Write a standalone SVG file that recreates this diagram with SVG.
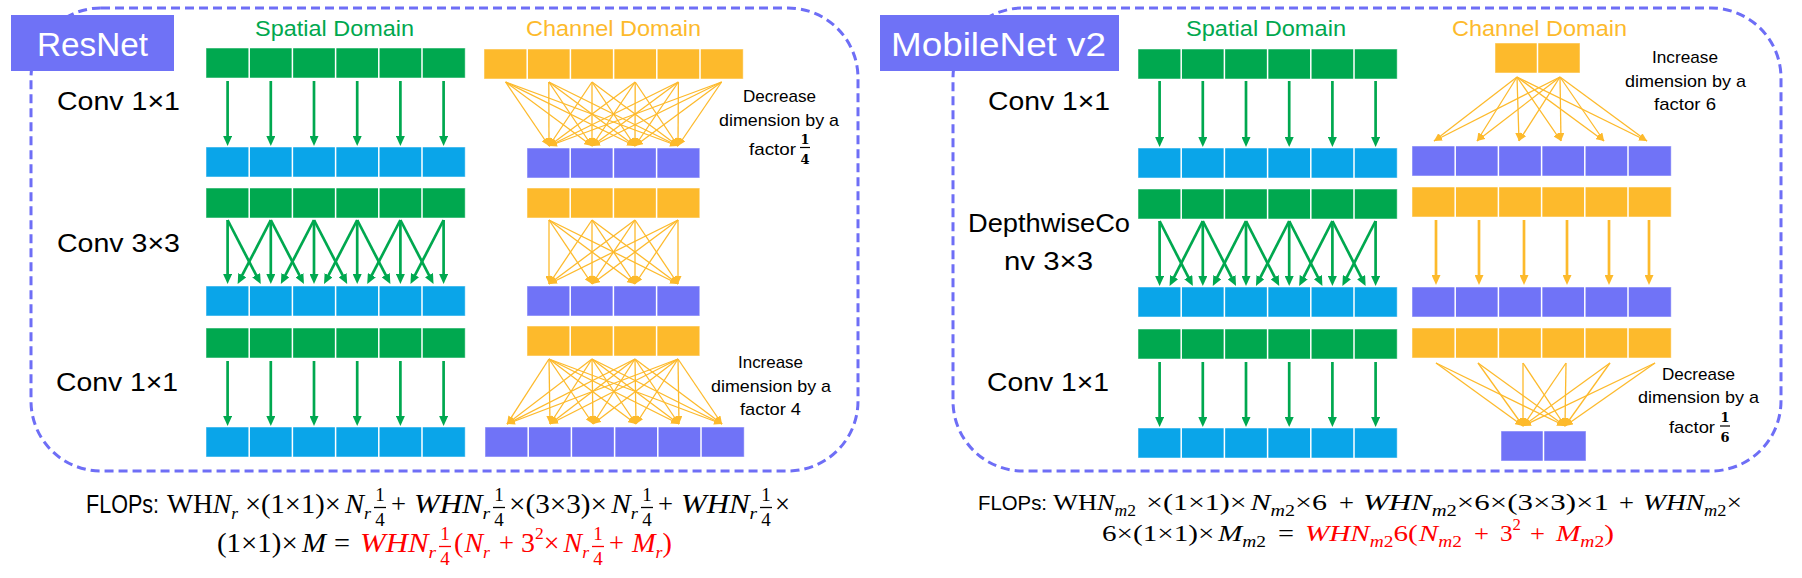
<svg xmlns="http://www.w3.org/2000/svg" width="1802" height="578" viewBox="0 0 1802 578">
<style>
.panel{fill:none;stroke:#6e6ef6;stroke-width:3;stroke-dasharray:9 5}
.tag{fill:#6f72f6}
.tagt{font-family:"Liberation Sans",Arial,sans-serif;font-size:33px;fill:#fff}
.g{fill:#00a84f}.b{fill:#0aa5e9}.p{fill:#7073f7}.o{fill:#fdba2c}
.g,.b,.p,.o{stroke:#fff;stroke-opacity:.5;stroke-width:1}
.sep{stroke:#fff;stroke-width:1.5;fill:none}
.lbl{font-family:"Liberation Sans",Arial,sans-serif;font-size:25px;fill:#000}
.dom{font-family:"Liberation Sans",Arial,sans-serif;font-size:22px}
.gt{fill:#00a84f}.ot{fill:#fdba2c}
.ann{font-family:"Liberation Sans",Arial,sans-serif;font-size:17px;fill:#000}
.af{font-family:"DejaVu Serif",serif;font-size:13px;font-weight:bold;fill:#000;text-anchor:middle}
.fs{font-family:"Liberation Sans",Arial,sans-serif;font-size:25px;fill:#000}
.fs2{font-family:"Liberation Sans",Arial,sans-serif;font-size:21px;fill:#000}
.m{font-family:"Liberation Serif","Times New Roman",serif;font-size:27px;fill:#000}
.m2{font-family:"Liberation Serif","Times New Roman",serif;font-size:24px;fill:#000}
.mf{font-family:"Liberation Serif","Times New Roman",serif;font-size:19px;fill:#000;text-anchor:middle}
.sa{font-size:17px}.sb{font-size:16px}
.i{font-style:italic}
.red{fill:#f00}
.fb{stroke:#000;stroke-width:1.3}
.fbr{stroke:#f00;stroke-width:1.3}
.abar{stroke:#000;stroke-width:1.2}
.ga{stroke:#00a84f;stroke-width:2.7;fill:none;marker-end:url(#ag)}
.oa{stroke:#fdba2c;stroke-width:1.3;fill:none;marker-end:url(#ao)}
.ota{stroke:#fdba2c;stroke-width:2.7;fill:none;marker-end:url(#aot)}
</style>
<defs>
<marker id="ag" markerUnits="userSpaceOnUse" markerWidth="10" markerHeight="9" refX="4" refY="4.5" orient="auto"><path d="M0,0L10,4.5L0,9z" fill="#00a84f"/></marker>
<marker id="aot" markerUnits="userSpaceOnUse" markerWidth="10" markerHeight="9" refX="4" refY="4.5" orient="auto"><path d="M0,0L10,4.5L0,9z" fill="#fdba2c"/></marker>
<marker id="ao" markerUnits="userSpaceOnUse" markerWidth="8" markerHeight="7" refX="8" refY="3.5" orient="auto"><path d="M0,0L8,3.5L0,7z" fill="#fdba2c"/></marker>
</defs>

<!-- panels -->
<g id="resnet-panel">
<rect class="panel" x="31" y="8" width="827" height="463" rx="70"/>
<rect class="tag" x="11" y="15" width="163" height="56"/>
<text class="tagt" x="37" y="56" textLength="111" lengthAdjust="spacingAndGlyphs">ResNet</text>
</g>
<g id="mobilenet-panel">
<rect class="panel" x="953" y="8" width="828" height="463" rx="70"/>
<rect class="tag" x="880" y="15" width="239" height="56"/>
<text class="tagt" x="891" y="56" textLength="215" lengthAdjust="spacingAndGlyphs">MobileNet v2</text>
</g>

<!-- titles and labels -->
<g id="resnet-labels">
<text class="dom gt" x="255" y="36" textLength="159" lengthAdjust="spacingAndGlyphs">Spatial Domain</text>
<text class="dom ot" x="526" y="36" textLength="175" lengthAdjust="spacingAndGlyphs">Channel Domain</text>
<text class="lbl" x="57" y="110" textLength="123" lengthAdjust="spacingAndGlyphs">Conv 1×1</text>
<text class="lbl" x="57" y="252" textLength="123" lengthAdjust="spacingAndGlyphs">Conv 3×3</text>
<text class="lbl" x="56" y="391" textLength="122" lengthAdjust="spacingAndGlyphs">Conv 1×1</text>
<text class="ann" x="743" y="102" textLength="73" lengthAdjust="spacingAndGlyphs">Decrease</text>
<text class="ann" x="719" y="126" textLength="120" lengthAdjust="spacingAndGlyphs">dimension by a</text>
<text class="ann" x="749" y="155" textLength="47" lengthAdjust="spacingAndGlyphs">factor</text>
<text class="af" x="805" y="144">1</text><path class="abar" d="M800 147.5h10"/><text class="af" x="805" y="164">4</text>
<text class="ann" x="738" y="368" textLength="65" lengthAdjust="spacingAndGlyphs">Increase</text>
<text class="ann" x="711" y="392" textLength="120" lengthAdjust="spacingAndGlyphs">dimension by a</text>
<text class="ann" x="740" y="415" textLength="61" lengthAdjust="spacingAndGlyphs">factor 4</text>
</g>
<g id="mobilenet-labels">
<text class="dom gt" x="1186" y="36" textLength="160" lengthAdjust="spacingAndGlyphs">Spatial Domain</text>
<text class="dom ot" x="1452" y="36" textLength="175" lengthAdjust="spacingAndGlyphs">Channel Domain</text>
<text class="lbl" x="988" y="110" textLength="122" lengthAdjust="spacingAndGlyphs">Conv 1×1</text>
<text class="lbl" x="968" y="232" textLength="162" lengthAdjust="spacingAndGlyphs">DepthwiseCo</text>
<text class="lbl" x="1004" y="270" textLength="89" lengthAdjust="spacingAndGlyphs">nv 3×3</text>
<text class="lbl" x="987" y="391" textLength="122" lengthAdjust="spacingAndGlyphs">Conv 1×1</text>
<text class="ann" x="1652" y="63" textLength="66" lengthAdjust="spacingAndGlyphs">Increase</text>
<text class="ann" x="1625" y="87" textLength="121" lengthAdjust="spacingAndGlyphs">dimension by a</text>
<text class="ann" x="1654" y="110" textLength="62" lengthAdjust="spacingAndGlyphs">factor 6</text>
<text class="ann" x="1662" y="380" textLength="73" lengthAdjust="spacingAndGlyphs">Decrease</text>
<text class="ann" x="1638" y="403" textLength="121" lengthAdjust="spacingAndGlyphs">dimension by a</text>
<text class="ann" x="1669" y="433" textLength="46" lengthAdjust="spacingAndGlyphs">factor</text>
<text class="af" x="1725" y="422">1</text><path class="abar" d="M1720 426h10"/><text class="af" x="1725" y="442">6</text>
</g>

<!-- ResNet rows -->
<g id="rs-g1"><rect class="g" x="206" y="48" width="259.2" height="30"/><path class="sep" d="M249.2 48v30M292.4 48v30M335.6 48v30M378.8 48v30M422 48v30"/></g>
<g id="rs-b1"><rect class="b" x="206" y="147" width="259.2" height="30"/><path class="sep" d="M249.2 147v30M292.4 147v30M335.6 147v30M378.8 147v30M422 147v30"/></g>
<g id="rs-g2"><rect class="g" x="206" y="188" width="259.2" height="30"/><path class="sep" d="M249.2 188v30M292.4 188v30M335.6 188v30M378.8 188v30M422 188v30"/></g>
<g id="rs-b2"><rect class="b" x="206" y="286" width="259.2" height="30"/><path class="sep" d="M249.2 286v30M292.4 286v30M335.6 286v30M378.8 286v30M422 286v30"/></g>
<g id="rs-g3"><rect class="g" x="206" y="328" width="259.2" height="30"/><path class="sep" d="M249.2 328v30M292.4 328v30M335.6 328v30M378.8 328v30M422 328v30"/></g>
<g id="rs-b3"><rect class="b" x="206" y="427" width="259.2" height="30"/><path class="sep" d="M249.2 427v30M292.4 427v30M335.6 427v30M378.8 427v30M422 427v30"/></g>
<g id="rc-o1"><rect class="o" x="484" y="49" width="259.2" height="30"/><path class="sep" d="M527.2 49v30M570.4 49v30M613.6 49v30M656.8 49v30M700 49v30"/></g>
<g id="rc-p1"><rect class="p" x="527" y="148" width="172.8" height="30"/><path class="sep" d="M570.2 148v30M613.4 148v30M656.6 148v30"/></g>
<g id="rc-o2"><rect class="o" x="527" y="188" width="172.8" height="30"/><path class="sep" d="M570.2 188v30M613.4 188v30M656.6 188v30"/></g>
<g id="rc-p2"><rect class="p" x="527" y="286" width="172.8" height="30"/><path class="sep" d="M570.2 286v30M613.4 286v30M656.6 286v30"/></g>
<g id="rc-o3"><rect class="o" x="527" y="326" width="172.8" height="30"/><path class="sep" d="M570.2 326v30M613.4 326v30M656.6 326v30"/></g>
<g id="rc-p3"><rect class="p" x="485" y="427" width="259.2" height="30"/><path class="sep" d="M528.2 427v30M571.4 427v30M614.6 427v30M657.8 427v30M701 427v30"/></g>

<!-- MobileNet rows -->
<g id="ms-g1"><rect class="g" x="1138" y="49" width="259.2" height="30"/><path class="sep" d="M1181.2 49v30M1224.4 49v30M1267.6 49v30M1310.8 49v30M1354 49v30"/></g>
<g id="ms-b1"><rect class="b" x="1138" y="148" width="259.2" height="30"/><path class="sep" d="M1181.2 148v30M1224.4 148v30M1267.6 148v30M1310.8 148v30M1354 148v30"/></g>
<g id="ms-g2"><rect class="g" x="1138" y="189" width="259.2" height="30"/><path class="sep" d="M1181.2 189v30M1224.4 189v30M1267.6 189v30M1310.8 189v30M1354 189v30"/></g>
<g id="ms-b2"><rect class="b" x="1138" y="287" width="259.2" height="30"/><path class="sep" d="M1181.2 287v30M1224.4 287v30M1267.6 287v30M1310.8 287v30M1354 287v30"/></g>
<g id="ms-g3"><rect class="g" x="1138" y="329" width="259.2" height="30"/><path class="sep" d="M1181.2 329v30M1224.4 329v30M1267.6 329v30M1310.8 329v30M1354 329v30"/></g>
<g id="ms-b3"><rect class="b" x="1138" y="428" width="259.2" height="30"/><path class="sep" d="M1181.2 428v30M1224.4 428v30M1267.6 428v30M1310.8 428v30M1354 428v30"/></g>
<g id="mc-o1"><rect class="o" x="1495" y="43" width="85" height="30"/><path class="sep" d="M1537.5 43v30"/></g>
<g id="mc-p1"><rect class="p" x="1412" y="146" width="259.2" height="30"/><path class="sep" d="M1455.2 146v30M1498.4 146v30M1541.6 146v30M1584.8 146v30M1628 146v30"/></g>
<g id="mc-o2"><rect class="o" x="1412" y="187" width="259.2" height="30"/><path class="sep" d="M1455.2 187v30M1498.4 187v30M1541.6 187v30M1584.8 187v30M1628 187v30"/></g>
<g id="mc-p2"><rect class="p" x="1412" y="287" width="259.2" height="30"/><path class="sep" d="M1455.2 287v30M1498.4 287v30M1541.6 287v30M1584.8 287v30M1628 287v30"/></g>
<g id="mc-o3"><rect class="o" x="1412" y="328" width="259.2" height="30"/><path class="sep" d="M1455.2 328v30M1498.4 328v30M1541.6 328v30M1584.8 328v30M1628 328v30"/></g>
<g id="mc-p3"><rect class="p" x="1501" y="431" width="85" height="30"/><path class="sep" d="M1543.5 431v30"/></g>

<!-- connectors -->
<g id="connectors">
<path class="ga" d="M227.6 81V140"/><path class="ga" d="M270.8 81V140"/><path class="ga" d="M314 81V140"/><path class="ga" d="M357.2 81V140"/><path class="ga" d="M400.4 81V140"/><path class="ga" d="M443.6 81V140"/>
<path class="ga" d="M227.6 220V278"/><path class="ga" d="M270.8 220V278"/><path class="ga" d="M314 220V278"/><path class="ga" d="M357.2 220V278"/><path class="ga" d="M400.4 220V278"/><path class="ga" d="M443.6 220V278"/>
<path class="ga" d="M227.6 220L258 278.7"/><path class="ga" d="M270.8 220L301.2 278.7"/><path class="ga" d="M314 220L344.4 278.7"/><path class="ga" d="M357.2 220L387.6 278.7"/><path class="ga" d="M400.4 220L430.8 278.7"/>
<path class="ga" d="M270.8 220L240.4 278.7"/><path class="ga" d="M314 220L283.6 278.7"/><path class="ga" d="M357.2 220L326.8 278.7"/><path class="ga" d="M400.4 220L370 278.7"/><path class="ga" d="M443.6 220L413.2 278.7"/>
<path class="ga" d="M227.6 361V420"/><path class="ga" d="M270.8 361V420"/><path class="ga" d="M314 361V420"/><path class="ga" d="M357.2 361V420"/><path class="ga" d="M400.4 361V420"/><path class="ga" d="M443.6 361V420"/>
<path class="oa" d="M505.6 82L549 146"/><path class="oa" d="M505.6 82L592 146"/><path class="oa" d="M505.6 82L635 146"/><path class="oa" d="M505.6 82L678 146"/>
<path class="oa" d="M548.8 82L549 146"/><path class="oa" d="M548.8 82L592 146"/><path class="oa" d="M548.8 82L635 146"/><path class="oa" d="M548.8 82L678 146"/>
<path class="oa" d="M592 82L549 146"/><path class="oa" d="M592 82L592 146"/><path class="oa" d="M592 82L635 146"/><path class="oa" d="M592 82L678 146"/>
<path class="oa" d="M635.2 82L549 146"/><path class="oa" d="M635.2 82L592 146"/><path class="oa" d="M635.2 82L635 146"/><path class="oa" d="M635.2 82L678 146"/>
<path class="oa" d="M678.4 82L549 146"/><path class="oa" d="M678.4 82L592 146"/><path class="oa" d="M678.4 82L635 146"/><path class="oa" d="M678.4 82L678 146"/>
<path class="oa" d="M721.6 82L549 146"/><path class="oa" d="M721.6 82L592 146"/><path class="oa" d="M721.6 82L635 146"/><path class="oa" d="M721.6 82L678 146"/>
<path class="oa" d="M549 220L549 284"/><path class="oa" d="M549 220L592 284"/><path class="oa" d="M549 220L635 284"/><path class="oa" d="M549 220L678 284"/>
<path class="oa" d="M592 220L549 284"/><path class="oa" d="M592 220L592 284"/><path class="oa" d="M592 220L635 284"/><path class="oa" d="M592 220L678 284"/>
<path class="oa" d="M635 220L549 284"/><path class="oa" d="M635 220L592 284"/><path class="oa" d="M635 220L635 284"/><path class="oa" d="M635 220L678 284"/>
<path class="oa" d="M678 220L549 284"/><path class="oa" d="M678 220L592 284"/><path class="oa" d="M678 220L635 284"/><path class="oa" d="M678 220L678 284"/>
<path class="oa" d="M549 359L507 424"/><path class="oa" d="M549 359L550 424"/><path class="oa" d="M549 359L593 424"/><path class="oa" d="M549 359L636 424"/><path class="oa" d="M549 359L679 424"/><path class="oa" d="M549 359L722 424"/>
<path class="oa" d="M592 359L507 424"/><path class="oa" d="M592 359L550 424"/><path class="oa" d="M592 359L593 424"/><path class="oa" d="M592 359L636 424"/><path class="oa" d="M592 359L679 424"/><path class="oa" d="M592 359L722 424"/>
<path class="oa" d="M635 359L507 424"/><path class="oa" d="M635 359L550 424"/><path class="oa" d="M635 359L593 424"/><path class="oa" d="M635 359L636 424"/><path class="oa" d="M635 359L679 424"/><path class="oa" d="M635 359L722 424"/>
<path class="oa" d="M678 359L507 424"/><path class="oa" d="M678 359L550 424"/><path class="oa" d="M678 359L593 424"/><path class="oa" d="M678 359L636 424"/><path class="oa" d="M678 359L679 424"/><path class="oa" d="M678 359L722 424"/>
<path class="ga" d="M1159.6 81V141"/><path class="ga" d="M1202.8 81V141"/><path class="ga" d="M1246 81V141"/><path class="ga" d="M1289.2 81V141"/><path class="ga" d="M1332.4 81V141"/><path class="ga" d="M1375.6 81V141"/>
<path class="ga" d="M1159.6 221V280"/><path class="ga" d="M1202.8 221V280"/><path class="ga" d="M1246 221V280"/><path class="ga" d="M1289.2 221V280"/><path class="ga" d="M1332.4 221V280"/><path class="ga" d="M1375.6 221V280"/>
<path class="ga" d="M1159.6 221L1190.1 280.7"/><path class="ga" d="M1202.8 221L1233.3 280.7"/><path class="ga" d="M1246 221L1276.5 280.7"/><path class="ga" d="M1289.2 221L1319.7 280.7"/><path class="ga" d="M1332.4 221L1362.9 280.7"/>
<path class="ga" d="M1202.8 221L1172.3 280.7"/><path class="ga" d="M1246 221L1215.5 280.7"/><path class="ga" d="M1289.2 221L1258.7 280.7"/><path class="ga" d="M1332.4 221L1301.9 280.7"/><path class="ga" d="M1375.6 221L1345.1 280.7"/>
<path class="ga" d="M1159.6 362V421"/><path class="ga" d="M1202.8 362V421"/><path class="ga" d="M1246 362V421"/><path class="ga" d="M1289.2 362V421"/><path class="ga" d="M1332.4 362V421"/><path class="ga" d="M1375.6 362V421"/>
<path class="oa" d="M1517 77L1434 141"/><path class="oa" d="M1517 77L1477 141"/><path class="oa" d="M1517 77L1519 141"/><path class="oa" d="M1517 77L1561 141"/><path class="oa" d="M1517 77L1604 141"/><path class="oa" d="M1517 77L1647 141"/>
<path class="oa" d="M1560 77L1434 141"/><path class="oa" d="M1560 77L1477 141"/><path class="oa" d="M1560 77L1519 141"/><path class="oa" d="M1560 77L1561 141"/><path class="oa" d="M1560 77L1604 141"/><path class="oa" d="M1560 77L1647 141"/>
<path class="ota" d="M1436 220V279"/><path class="ota" d="M1479 220V279"/><path class="ota" d="M1524 220V279"/><path class="ota" d="M1567 220V279"/><path class="ota" d="M1609 220V279"/><path class="ota" d="M1649 220V279"/>
<path class="oa" d="M1436 363L1523 426"/><path class="oa" d="M1478 363L1523 426"/><path class="oa" d="M1523 363L1523 426"/><path class="oa" d="M1566 363L1523 426"/><path class="oa" d="M1610 363L1523 426"/><path class="oa" d="M1655 363L1523 426"/>
<path class="oa" d="M1436 363L1565 426"/><path class="oa" d="M1478 363L1565 426"/><path class="oa" d="M1523 363L1565 426"/><path class="oa" d="M1566 363L1565 426"/><path class="oa" d="M1610 363L1565 426"/><path class="oa" d="M1655 363L1565 426"/>
</g>

<!-- ResNet FLOPs formula -->
<g id="resnet-flops">
<text class="fs" x="86" y="513" textLength="73" lengthAdjust="spacingAndGlyphs">FLOPs:</text>
<text class="m" x="167" y="513" textLength="71" lengthAdjust="spacingAndGlyphs">WH<tspan class="i">N</tspan><tspan class="i sa" dy="6">r</tspan></text>
<text class="m" x="245" y="513" textLength="126" lengthAdjust="spacingAndGlyphs">×(1×1)×<tspan class="i" dx="4">N</tspan><tspan class="i sa" dy="6">r</tspan></text>
<text class="mf" x="380" y="501">1</text><path class="fb" d="M374 507.5h12"/><text class="mf" x="380" y="526">4</text>
<text class="m" x="391" y="513" textLength="15" lengthAdjust="spacingAndGlyphs">+</text>
<text class="m i" x="414" y="513" textLength="76" lengthAdjust="spacingAndGlyphs">WHN<tspan class="sa" dy="6">r</tspan></text>
<text class="mf" x="499" y="501">1</text><path class="fb" d="M493 507.5h12"/><text class="mf" x="499" y="526">4</text>
<text class="m" x="509" y="513" textLength="129" lengthAdjust="spacingAndGlyphs">×(3×3)×<tspan class="i" dx="4">N</tspan><tspan class="i sa" dy="6">r</tspan></text>
<text class="mf" x="647" y="501">1</text><path class="fb" d="M641 507.5h12"/><text class="mf" x="647" y="526">4</text>
<text class="m" x="658" y="513" textLength="15" lengthAdjust="spacingAndGlyphs">+</text>
<text class="m i" x="681" y="513" textLength="76" lengthAdjust="spacingAndGlyphs">WHN<tspan class="sa" dy="6">r</tspan></text>
<text class="mf" x="766" y="501">1</text><path class="fb" d="M760 507.5h12"/><text class="mf" x="766" y="526">4</text>
<text class="m" x="775" y="513" textLength="15" lengthAdjust="spacingAndGlyphs">×</text>
<text class="m" x="217" y="552" textLength="109" lengthAdjust="spacingAndGlyphs">(1×1)×<tspan class="i" dx="4">M</tspan></text>
<text class="m" x="334" y="552" textLength="16" lengthAdjust="spacingAndGlyphs">=</text>
<text class="m i red" x="360" y="552" textLength="76" lengthAdjust="spacingAndGlyphs">WHN<tspan class="sa" dy="6">r</tspan></text>
<text class="mf red" x="445" y="540">1</text><path class="fbr" d="M439 546.5h12"/><text class="mf red" x="445" y="565">4</text>
<text class="m red" x="454" y="552" textLength="36" lengthAdjust="spacingAndGlyphs">(<tspan class="i" dx="1">N</tspan><tspan class="i sa" dy="6">r</tspan></text>
<text class="m red" x="499" y="552" textLength="15" lengthAdjust="spacingAndGlyphs">+</text>
<text class="m red" x="521" y="552" textLength="68" lengthAdjust="spacingAndGlyphs">3<tspan class="sa" dy="-13">2</tspan><tspan dy="13">×</tspan><tspan class="i" dx="4">N</tspan><tspan class="i sa" dy="6">r</tspan></text>
<text class="mf red" x="598" y="540">1</text><path class="fbr" d="M592 546.5h12"/><text class="mf red" x="598" y="565">4</text>
<text class="m red" x="609" y="552" textLength="15" lengthAdjust="spacingAndGlyphs">+</text>
<text class="m red" x="632" y="552" textLength="40" lengthAdjust="spacingAndGlyphs"><tspan class="i">M</tspan><tspan class="i sa" dy="6">r</tspan><tspan dy="-6">)</tspan></text>
</g>

<!-- MobileNet FLOPs formula -->
<g id="mobilenet-flops">
<text class="fs2" x="978" y="510" textLength="69" lengthAdjust="spacingAndGlyphs">FLOPs:</text>
<text class="m2" x="1053" y="510" textLength="83" lengthAdjust="spacingAndGlyphs">WH<tspan class="i">N</tspan><tspan class="sb" dy="6"><tspan class="i">m</tspan>2</tspan></text>
<text class="m2" x="1146" y="510" textLength="181" lengthAdjust="spacingAndGlyphs">×(1×1)×<tspan class="i" dx="3">N</tspan><tspan class="sb" dy="6"><tspan class="i">m</tspan>2</tspan><tspan dy="-6">×6</tspan></text>
<text class="m2" x="1339" y="510" textLength="15" lengthAdjust="spacingAndGlyphs">+</text>
<text class="m2" x="1363" y="510" textLength="246" lengthAdjust="spacingAndGlyphs"><tspan class="i">WHN</tspan><tspan class="sb" dy="6"><tspan class="i">m</tspan>2</tspan><tspan dy="-6">×6×(3×3)×1</tspan></text>
<text class="m2" x="1619" y="510" textLength="15" lengthAdjust="spacingAndGlyphs">+</text>
<text class="m2" x="1643" y="510" textLength="99" lengthAdjust="spacingAndGlyphs"><tspan class="i">WHN</tspan><tspan class="sb" dy="6"><tspan class="i">m</tspan>2</tspan><tspan dy="-6">×</tspan></text>
<text class="m2" x="1102" y="541" textLength="164" lengthAdjust="spacingAndGlyphs">6×(1×1)×<tspan class="i" dx="3">M</tspan><tspan class="sb" dy="6"><tspan class="i">m</tspan>2</tspan></text>
<text class="m2" x="1278" y="541" textLength="16" lengthAdjust="spacingAndGlyphs">=</text>
<text class="m2 red" x="1305" y="541" textLength="157" lengthAdjust="spacingAndGlyphs"><tspan class="i">WHN</tspan><tspan class="sb" dy="6"><tspan class="i">m</tspan>2</tspan><tspan dy="-6">6(</tspan><tspan class="i" dx="1">N</tspan><tspan class="sb" dy="6"><tspan class="i">m</tspan>2</tspan></text>
<text class="m2 red" x="1474" y="541" textLength="15" lengthAdjust="spacingAndGlyphs">+</text>
<text class="m2 red" x="1500" y="541" textLength="21" lengthAdjust="spacingAndGlyphs">3<tspan class="sb" dy="-11">2</tspan></text>
<text class="m2 red" x="1530" y="541" textLength="15" lengthAdjust="spacingAndGlyphs">+</text>
<text class="m2 red" x="1556" y="541" textLength="58" lengthAdjust="spacingAndGlyphs"><tspan class="i">M</tspan><tspan class="sb" dy="6"><tspan class="i">m</tspan>2</tspan><tspan dy="-6">)</tspan></text>
</g>
</svg>
